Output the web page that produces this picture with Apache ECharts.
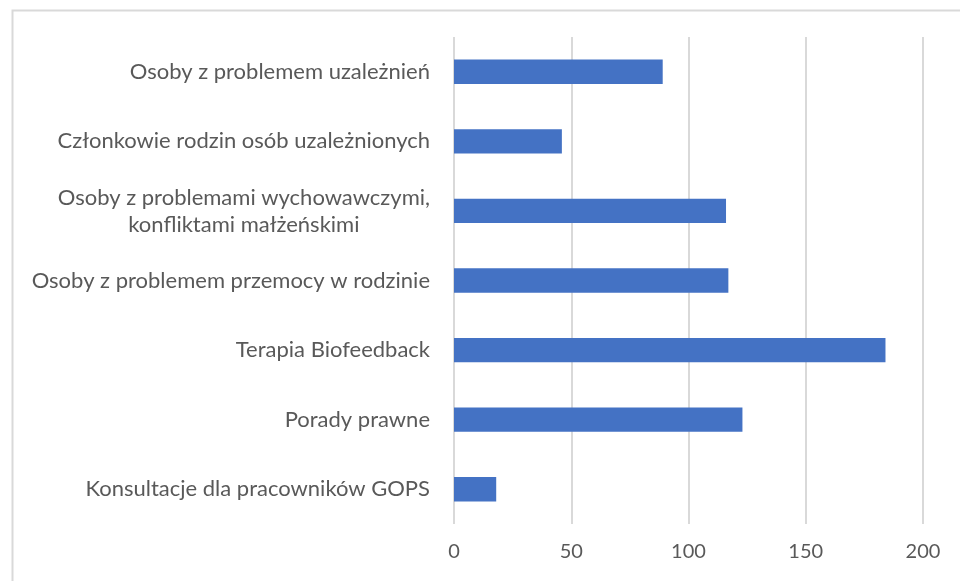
<!DOCTYPE html>
<html>
<head>
<meta charset="utf-8">
<style>
  html, body { margin: 0; padding: 0; background: #ffffff; }
  #chart { width: 960px; height: 581px; }
</style>
<script src="https://cdn.jsdelivr.net/npm/echarts@6/dist/echarts.min.js"></script>
</head>
<body>
<div id="chart"></div>
<script>
// Categories shown top to bottom
const categories = [
  'Osoby z problemem uzależnień',
  'Członkowie rodzin osób uzależnionych',
  'Osoby z problemami wychowawczymi,\nkonfliktami małżeńskimi',
  'Osoby z problemem przemocy w rodzinie',
  'Terapia Biofeedback',
  'Porady prawne',
  'Konsultacje dla pracowników GOPS'
];
// Number of people per category
const values = [89, 46, 116, 117, 184, 123, 18];
// Value axis range and step
const axisMin = 0;
const axisMax = 200;
const axisStep = 50;

const chart = echarts.init(document.getElementById('chart'), null, { renderer: 'canvas' });

const labelFont = 'Lato, "Open Sans", sans-serif';

chart.setOption({
  animation: false,
  backgroundColor: '#ffffff',
  graphic: [{
    type: 'rect',
    left: 10,
    top: 8,
    shape: { width: 980, height: 600 },
    style: { fill: 'none', stroke: '#d9d9d9', lineWidth: 2 },
    silent: true,
    z: -1
  }],
  grid: {
    left: 454,
    right: 37,
    top: 37,
    bottom: 57,
    containLabel: false
  },
  xAxis: {
    type: 'value',
    min: axisMin,
    max: axisMax,
    interval: axisStep,
    axisLine: { show: false },
    axisTick: { show: false },
    splitLine: { show: true, lineStyle: { color: '#d9d9d9', width: 2 } },
    axisLabel: {
      color: '#595959',
      fontSize: 20,
      fontFamily: labelFont,
      margin: 18
    }
  },
  yAxis: {
    type: 'category',
    inverse: true,
    data: categories,
    axisLine: { show: false },
    axisTick: { show: false },
    axisLabel: {
      margin: 24,
      color: '#595959',
      fontSize: 22,
      fontFamily: labelFont,
      formatter: function (v) {
        return v.split('\n').map(function (s) { return '{c|' + s + '}'; }).join('\n');
      },
      rich: {
        c: {
          align: 'center',
          color: '#595959',
          fontSize: 22,
          fontFamily: labelFont,
          lineHeight: 27
        }
      }
    }
  },
  series: [{
    type: 'bar',
    data: values,
    barWidth: '35%',
    itemStyle: { color: '#4472c4' }
  }]
});
</script>
</body>
</html>
